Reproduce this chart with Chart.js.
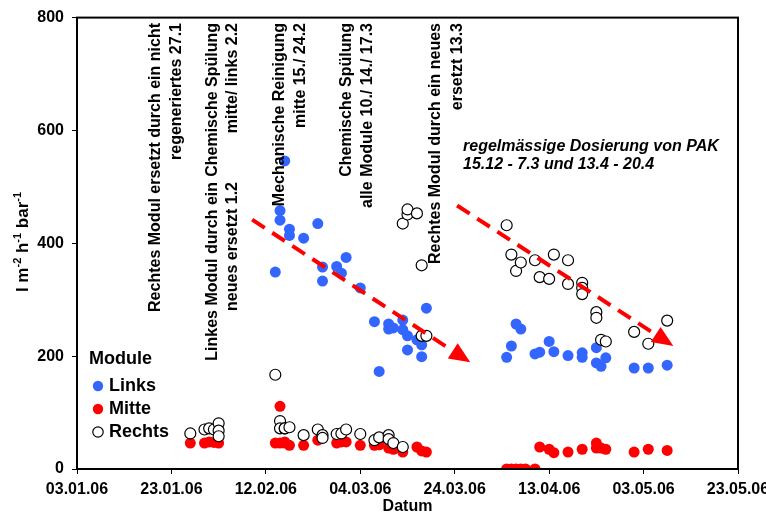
<!DOCTYPE html>
<html>
<head>
<meta charset="utf-8">
<script src="https://cdn.jsdelivr.net/npm/chart.js@4"></script>
<style>
  body { margin: 0; background: #fff; }
  canvas { display: block; }
</style>
</head>
<body>
<canvas id="myChart" width="766" height="515"></canvas>
<script>
const startDate = "2006-01-03";
const xTickStep = 20;

const linksDates = [
  "2006-02-14", "2006-02-15", "2006-02-15", "2006-02-16", "2006-02-17", "2006-02-17",
  "2006-02-20", "2006-02-23", "2006-02-24", "2006-02-24", "2006-02-27", "2006-02-28",
  "2006-03-01", "2006-03-04", "2006-03-07", "2006-03-08", "2006-03-10", "2006-03-10",
  "2006-03-11", "2006-03-13", "2006-03-13", "2006-03-14", "2006-03-14", "2006-03-16",
  "2006-03-17", "2006-03-17", "2006-03-18",
  "2006-04-04", "2006-04-05", "2006-04-06", "2006-04-07", "2006-04-10", "2006-04-11",
  "2006-04-13", "2006-04-14", "2006-04-17", "2006-04-20", "2006-04-20", "2006-04-23",
  "2006-04-23", "2006-04-24", "2006-04-25", "2006-05-01", "2006-05-04", "2006-05-08"
];
const linksValues = [
  349, 441, 458, 546, 425, 414,
  409, 435, 358, 333, 359, 347,
  375, 321, 261, 173, 257, 248,
  250, 264, 247, 236, 211, 229,
  220, 199, 285,
  198, 218, 257, 248, 204, 207,
  226, 208, 201, 206, 198, 215,
  188, 182, 197, 179, 179, 184
];

const mitteDates = [
  "2006-01-27", "2006-01-30", "2006-01-31", "2006-02-01", "2006-02-02",
  "2006-02-14", "2006-02-15", "2006-02-15", "2006-02-16", "2006-02-16", "2006-02-17",
  "2006-02-20", "2006-02-23", "2006-02-27", "2006-02-28", "2006-03-01", "2006-03-04",
  "2006-03-07", "2006-03-08", "2006-03-10", "2006-03-11", "2006-03-13", "2006-03-16",
  "2006-03-17", "2006-03-18",
  "2006-04-04", "2006-04-05", "2006-04-06", "2006-04-07", "2006-04-08", "2006-04-10",
  "2006-04-11", "2006-04-13", "2006-04-14", "2006-04-17", "2006-04-20", "2006-04-23",
  "2006-04-23", "2006-04-24", "2006-04-25", "2006-05-01", "2006-05-04", "2006-05-08"
];
const mitteValues = [
  46, 46, 48, 47, 46,
  46, 111, 46, 48, 46, 42,
  42, 51, 46, 48, 48, 42,
  42, 43, 37, 35, 30, 39,
  32, 30,
  0, 0, 0, 0, 0, 0,
  39, 35, 29, 30, 35, 46,
  37, 37, 35, 30, 35, 33
];

const rechtsDates = [
  "2006-01-27", "2006-01-30", "2006-01-31", "2006-02-01", "2006-02-02", "2006-02-02", "2006-02-02",
  "2006-02-14", "2006-02-15", "2006-02-15", "2006-02-16", "2006-02-16", "2006-02-17",
  "2006-02-20", "2006-02-23", "2006-02-24", "2006-02-24", "2006-02-27", "2006-02-28",
  "2006-03-01", "2006-03-04", "2006-03-07", "2006-03-08", "2006-03-10", "2006-03-10",
  "2006-03-11", "2006-03-13", "2006-03-13", "2006-03-14", "2006-03-14", "2006-03-16",
  "2006-03-17", "2006-03-17", "2006-03-18",
  "2006-04-04", "2006-04-05", "2006-04-06", "2006-04-07", "2006-04-10", "2006-04-11",
  "2006-04-13", "2006-04-14", "2006-04-17", "2006-04-17", "2006-04-20", "2006-04-20",
  "2006-04-20", "2006-04-23", "2006-04-23", "2006-04-24", "2006-04-25", "2006-05-01",
  "2006-05-04", "2006-05-08"
];
const rechtsValues = [
  63, 70, 72, 70, 81, 68, 58,
  167, 85, 72, 72, 72, 74,
  60, 70, 60, 55, 62, 63,
  70, 62, 51, 56, 60, 53,
  46, 39, 435, 451, 460, 453,
  361, 236, 236,
  432, 380, 351, 366, 370, 340,
  337, 380, 370, 328, 330, 321,
  310, 278, 268, 229, 226, 243,
  222, 263
];

// trend arrows: [startDay, startValue, endDay, endValue] (days since startDate)
const trendArrows = [
  [37.1, 442, 83.3, 189],
  [80.5, 467, 126.3, 218]
];

// vertical notes: lines, x centre of each line, y of upper end
const notes = [
  { lines: ["Rechtes Modul ersetzt durch ein nicht", "regeneriertes 27.1"], x: [156, 177], top: 23 },
  { lines: ["Linkes Modul durch ein", "neues ersetzt 1.2"], x: [213, 233], top: 182 },
  { lines: ["Chemische Spülung", "mitte/ links 2.2"], x: [213, 233], top: 23 },
  { lines: ["Mechanische Reinigung", "mitte 15./ 24.2"], x: [280, 301], top: 23 },
  { lines: ["Chemische Spülung", "alle Module 10./ 14./ 17.3"], x: [347, 368], top: 23 },
  { lines: ["Rechtes Modul durch ein neues", "ersetzt 13.3"], x: [436, 458], top: 23 }
];
const pakNote = ["regelmässige Dosierung von PAK", "15.12 - 7.3 und 13.4 - 20.4"];

const seriesNames = ["Links", "Mitte", "Rechts"];
const blue = "rgb(51,102,255)";
const red = "rgb(255,0,0)";
const FONT = "'Liberation Sans', Arial, sans-serif";

function dayOf(s) {
  return (Date.parse(s) - Date.parse(startDate)) / 86400000;
}
function toPoints(dates, values) {
  return dates.map((d, i) => ({ x: dayOf(d), y: values[i] }));
}
function fmtDay(v) {
  let d = new Date(Date.parse(startDate) + v * 86400000);
  let dd = String(d.getUTCDate()).padStart(2, "0");
  let mm = String(d.getUTCMonth() + 1).padStart(2, "0");
  let yy = String(d.getUTCFullYear()).slice(2);
  return dd + "." + mm + "." + yy;
}

const extras = {
  id: "extras",
  afterDatasetsDraw(chart) {
    const ctx = chart.ctx;
    const xs = chart.scales.x, ys = chart.scales.y;
    ctx.save();
    trendArrows.forEach((a) => {
      let x1 = xs.getPixelForValue(a[0]), y1 = ys.getPixelForValue(a[1]);
      let x2 = xs.getPixelForValue(a[2]), y2 = ys.getPixelForValue(a[3]);
      let ang = Math.atan2(y2 - y1, x2 - x1);
      let headLen = 21, headW = 9;
      let bx = x2 - headLen * Math.cos(ang), by = y2 - headLen * Math.sin(ang);
      ctx.strokeStyle = red;
      ctx.lineWidth = 4;
      ctx.setLineDash([15, 9]);
      ctx.beginPath();
      ctx.moveTo(x1, y1);
      ctx.lineTo(bx, by);
      ctx.stroke();
      ctx.setLineDash([]);
      ctx.fillStyle = red;
      ctx.beginPath();
      ctx.moveTo(x2, y2);
      ctx.lineTo(bx + headW * Math.sin(ang), by - headW * Math.cos(ang));
      ctx.lineTo(bx - headW * Math.sin(ang), by + headW * Math.cos(ang));
      ctx.closePath();
      ctx.fill();
    });
    ctx.restore();
  },
  afterDraw(chart) {
    const ctx = chart.ctx;
    const ca = chart.chartArea;
    ctx.save();
    // frame
    ctx.strokeStyle = "#000";
    ctx.lineWidth = 2;
    ctx.strokeRect(ca.left, ca.top, ca.right - ca.left, ca.bottom - ca.top);

    // vertical notes
    ctx.fillStyle = "#000";
    ctx.font = "bold 16px " + FONT;
    ctx.textAlign = "right";
    ctx.textBaseline = "middle";
    notes.forEach((n) => {
      n.lines.forEach((t, i) => {
        ctx.save();
        ctx.translate(n.x[i], n.top);
        ctx.rotate(-Math.PI / 2);
        ctx.fillText(t, 0, 0);
        ctx.restore();
      });
    });

    // PAK note
    ctx.font = "italic bold 16px " + FONT;
    ctx.textAlign = "left";
    ctx.fillText(pakNote[0], 463, 147);
    ctx.fillText(pakNote[1], 463, 165);

    // legend
    ctx.font = "bold 18px " + FONT;
    ctx.fillText("Module", 89, 359);
    const legY = [386, 409, 432];
    chart.data.datasets.forEach((ds, i) => {
      ctx.beginPath();
      ctx.arc(98, legY[i], 5.2, 0, Math.PI * 2);
      ctx.fillStyle = ds.backgroundColor;
      ctx.fill();
      if (ds.borderWidth > 0) {
        ctx.lineWidth = 1.2;
        ctx.strokeStyle = ds.borderColor;
        ctx.stroke();
      }
      ctx.fillStyle = "#000";
      ctx.fillText(ds.label, 109, legY[i]);
    });

    // y axis title with superscripts
    const parts = [["l m", 0], ["-2", 1], [" h", 0], ["-1", 1], [" bar", 0], ["-1", 1]];
    const mainF = "bold 17px " + FONT, supF = "bold 11px " + FONT;
    let total = 0;
    parts.forEach((p) => {
      ctx.font = p[1] ? supF : mainF;
      total += ctx.measureText(p[0]).width;
    });
    ctx.translate(28, 242);
    ctx.rotate(-Math.PI / 2);
    ctx.textBaseline = "alphabetic";
    let px = -total / 2;
    parts.forEach((p) => {
      ctx.font = p[1] ? supF : mainF;
      ctx.fillText(p[0], px, p[1] ? -7 : 0);
      px += ctx.measureText(p[0]).width;
    });
    ctx.restore();
  }
};

var ctx = document.getElementById("myChart");
var chart = new Chart(ctx, {
  type: "scatter",
  data: {
    datasets: [
      {
        label: seriesNames[0],
        data: toPoints(linksDates, linksValues),
        backgroundColor: blue,
        borderColor: blue,
        borderWidth: 0,
        pointRadius: 5.5,
        order: 3,
      },
      {
        label: seriesNames[1],
        data: toPoints(mitteDates, mitteValues),
        backgroundColor: red,
        borderColor: red,
        borderWidth: 0,
        pointRadius: 5.5,
        order: 2,
      },
      {
        label: seriesNames[2],
        data: toPoints(rechtsDates, rechtsValues),
        backgroundColor: "#fff",
        borderColor: "#000",
        borderWidth: 1.2,
        pointRadius: 5.5,
        order: 1,
      },
    ],
  },
  options: {
    responsive: false,
    animation: false,
    devicePixelRatio: 1,
    layout: {
      padding: { top: 15, right: 28, left: 0, bottom: 0 },
    },
    plugins: {
      legend: { display: false },
      tooltip: { enabled: false },
    },
    scales: {
      x: {
        type: "linear",
        min: 0,
        max: 140,
        afterFit(scale) {
          scale.height = 46;
          scale.paddingLeft = 0;
          scale.paddingRight = 0;
        },
        ticks: {
          stepSize: xTickStep,
          color: "#000",
          font: { family: FONT, size: 16, weight: "bold" },
          padding: 6,
          maxRotation: 0,
          callback: (v) => fmtDay(v),
        },
        grid: { drawOnChartArea: false, tickLength: 5, color: "#000" },
        border: { color: "#000", width: 2 },
        title: {
          display: true,
          text: "Datum",
          color: "#000",
          font: { family: FONT, size: 16, weight: "bold", lineHeight: 1 },
          padding: { top: 0, bottom: 0 },
        },
      },
      y: {
        min: 0,
        max: 800,
        afterFit(scale) {
          scale.width = 77;
        },
        ticks: {
          stepSize: 200,
          color: "#000",
          font: { family: FONT, size: 16, weight: "bold" },
          padding: 8,
        },
        grid: { drawOnChartArea: false, tickLength: 5, color: "#000" },
        border: { color: "#000", width: 2 },
      },
    },
  },
  plugins: [extras],
});
</script>
</body>
</html>
